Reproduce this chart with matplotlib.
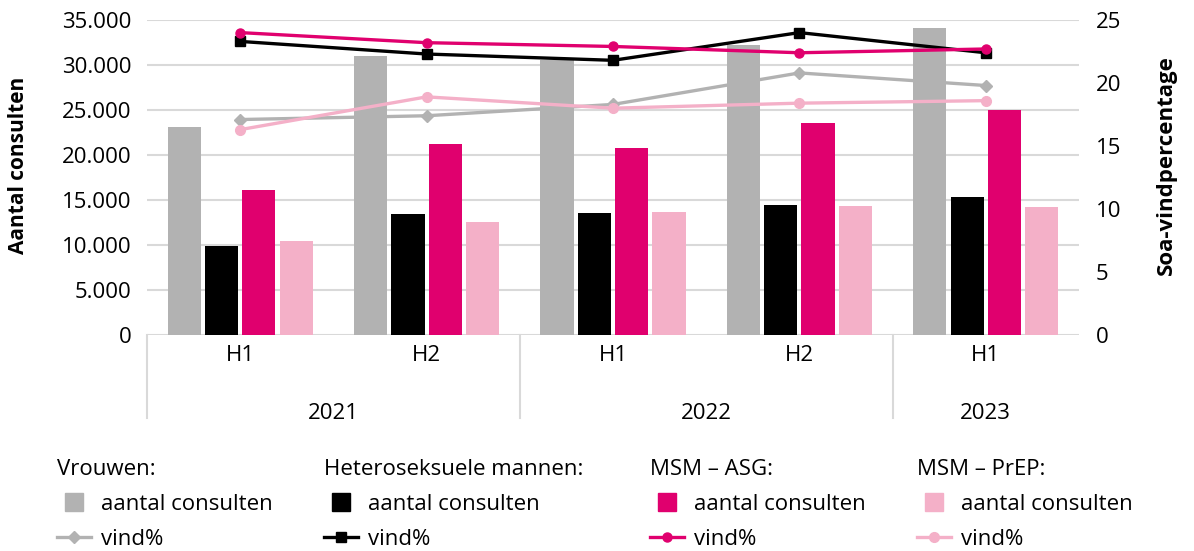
import numpy as np
import matplotlib
matplotlib.use("Agg")
import matplotlib.pyplot as plt
from matplotlib.lines import Line2D
from matplotlib.ticker import FuncFormatter
import matplotlib.transforms as mtransforms

plt.rcParams['font.family'] = ['Open Sans', 'DejaVu Sans']

#%% Data
Halves      = ["H1", "H2", "H1", "H2", "H1"]
Years       = ["2021", "2022", "2023"]
Year_Span   = [(-0.5, 1.5), (1.5, 3.5), (3.5, 4.5)]

Groups      = ["Vrouwen:", "Heteroseksuele mannen:", "MSM \u2013 ASG:", "MSM \u2013 PrEP:"]

Consults_Vrouwen  = [23100, 31000, 30600, 32200, 34100]
Consults_Hetero   = [9900, 13500, 13600, 14500, 15300]
Consults_ASG      = [16100, 21200, 20800, 23600, 25000]
Consults_PrEP     = [10500, 12600, 13700, 14300, 14200]

Vind_Vrouwen  = [17.1, 17.4, 18.3, 20.8, 19.8]
Vind_Hetero   = [23.3, 22.3, 21.8, 24.0, 22.4]
Vind_ASG      = [24.0, 23.2, 22.9, 22.4, 22.7]
Vind_PrEP     = [16.3, 18.9, 18.0, 18.4, 18.6]

Consults = [Consults_Vrouwen, Consults_Hetero, Consults_ASG, Consults_PrEP]
Vind     = [Vind_Vrouwen, Vind_Hetero, Vind_ASG, Vind_PrEP]

#%% Style
Colors  = ["#B2B2B2", "#000000", "#E0006E", "#F4B0C8"]
Markers = ["D", "s", "o", "o"]
MSizes  = [6.5, 7, 6.5, 7]

Grid_Color  = "#D9D9D9"
FontSize    = 16
FontSize_LabelL = 15
FontSize_LabelR = 16

Fig_W, Fig_H = 11.94, 5.51

Bar_Width   = 0.178
Offsets     = [-0.3, -0.1, 0.1, 0.3]

#%% Figure
Fig = plt.figure(figsize=[Fig_W, Fig_H], dpi=100)
ax = Fig.add_axes([147/1194, 1 - 335/551, 932/1194, 315/551])
ax2 = ax.twinx()

x = np.arange(len(Halves))

for vals, off, col in zip(Consults, Offsets, Colors):
    ax.bar(x + off, vals, width=Bar_Width, color=col, zorder=2)

for vals, col, mk, ms in zip(Vind, Colors, Markers, MSizes):
    ax2.plot(x, vals, color=col, marker=mk, markersize=ms, linewidth=2.4, zorder=3)

ax.set_xlim(-0.5, 4.5)
ax.set_ylim(0, 35000)
ax.set_yticks(np.arange(0, 35001, 5000))
ax.yaxis.set_major_formatter(FuncFormatter(lambda v, p: f"{v:,.0f}".replace(",", ".")))
ax2.set_ylim(0, 25)
ax2.set_yticks(np.arange(0, 26, 5))

ax.set_axisbelow(True)
ax.yaxis.grid(True, color=Grid_Color, linewidth=1.5)

for a in [ax, ax2]:
    for s in a.spines.values():
        s.set_visible(False)
    a.tick_params(length=0, labelsize=FontSize)

ax.tick_params(axis="y", pad=11)
ax2.tick_params(axis="y", pad=12)

ax.set_xticks(x)
ax.set_xticklabels(Halves)
ax.tick_params(axis="x", pad=7)

ax.set_ylabel("Aantal consulten", fontsize=FontSize_LabelL, fontweight="bold")
ax.yaxis.set_label_coords(-0.127, 0.54)
ax2.set_ylabel("Soa-vindpercentage", fontsize=FontSize_LabelR, fontweight="bold", rotation=90)
ax2.yaxis.set_label_coords(1.083, 0.54)

# category axis: years + separators
trans = mtransforms.blended_transform_factory(ax.transData, ax.transAxes)
for yr, (x0, x1) in zip(Years, Year_Span):
    ax.text((x0 + x1) / 2, -0.248, yr, transform=trans, ha="center", va="center", fontsize=FontSize)
for xs in [-0.5, 1.5, 3.5]:
    ax.plot([xs, xs], [0, -0.263], transform=trans, color=Grid_Color, linewidth=1.5, clip_on=False)

#%% Legends
Leg_X = [57, 324, 650, 917]
for grp, col, mk, ms, lx in zip(Groups, Colors, Markers, MSizes, Leg_X):
    h_bar = Line2D([], [], linestyle="none", marker="s", markersize=13.5, color=col)
    h_line = Line2D([], [], color=col, marker=mk, markersize=ms, linewidth=2.4)
    leg = Fig.legend([h_bar, h_line], ["aantal consulten", "vind%"], title=grp,
                     loc="upper left", bbox_to_anchor=(lx / 1194, 1 - 459 / 551),
                     frameon=False, fontsize=FontSize, title_fontsize=FontSize,
                     handlelength=1.55, handletextpad=0.45, borderpad=0, borderaxespad=0,
                     labelspacing=0.62)
    leg._legend_box.align = "left"

plt.savefig("out.png", dpi=100)
